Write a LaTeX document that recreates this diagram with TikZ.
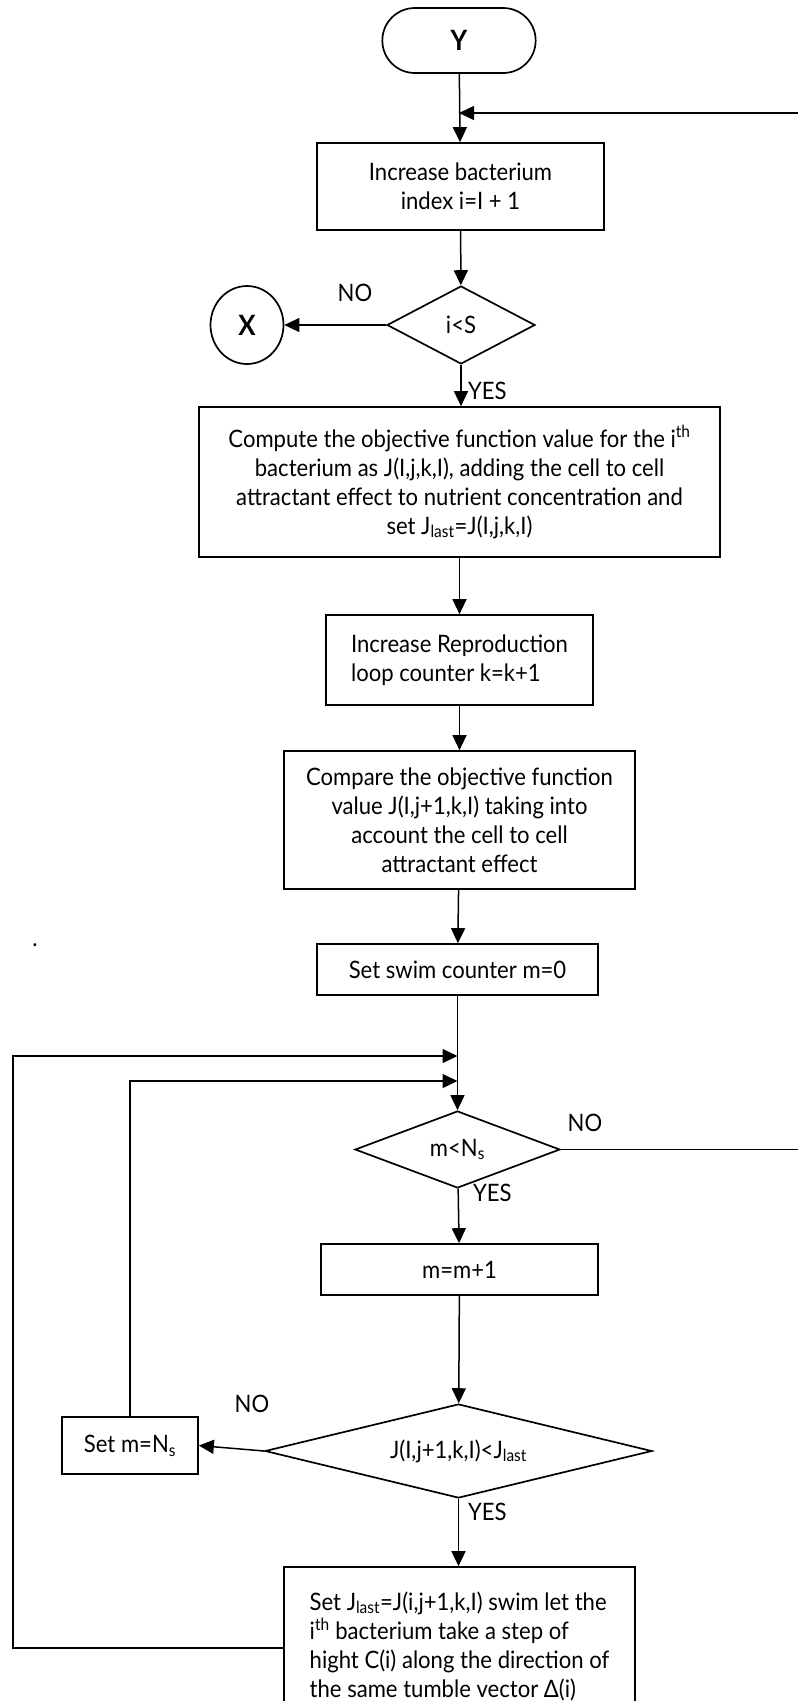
\documentclass[tikz,border=0pt]{standalone}
\usepackage{fontspec}
\setmainfont[FakeStretch=0.92]{Lato}
\usetikzlibrary{shapes.geometric,shapes.misc,arrows.meta}

\begin{document}
\begin{tikzpicture}[x=1pt,y=-1pt,
  font=\fontsize{24}{29}\selectfont,
  box/.style={draw, line width=1.7pt, rectangle, align=center, inner sep=0pt},
  decision/.style={draw, line width=1.7pt, diamond, inner sep=0pt},
  arr/.style={-{Triangle[length=15pt,width=14pt]}, line width=1.5pt},
  line/.style={line width=1.5pt},
  lbl/.style={inner sep=0pt}]
\useasboundingbox (0,0) rectangle (798,1701);
\clip (0,0) rectangle (798,1701);

% --- nodes -------------------------------------------------------
\node[draw, line width=1.7pt, rounded rectangle, minimum width=160pt, minimum height=65pt,
      font=\fontsize{28}{30}\selectfont\bfseries] (Y) at (459,40.5) {Y};

\node[box, minimum width=287pt, minimum height=87pt] (b1) at (460.5,186.5)
  {Increase bacterium\\index i=I + 1};

\node[decision, aspect=1.9, minimum width=148pt, minimum height=78pt] (d1) at (461,325) {i<S};

\node[draw, line width=1.7pt, ellipse, minimum width=73pt, minimum height=78pt,
      font=\fontsize{28}{30}\selectfont\bfseries] (X) at (247,325) {X};

\node[box, minimum width=521pt, minimum height=150pt] (b2) at (459.5,482)
  {Compute the objective function value for the i\textsuperscript{th}\\
   bacterium as J(I,j,k,I), adding the cell to cell\\
   attractant effect to nutrient concentration and\\
   set J\textsubscript{last}=J(I,j,k,I)};

\node[box, align=left, minimum width=267pt, minimum height=90pt] (b3) at (459.5,660)
  {Increase Reproduction\\loop counter k=k+1};

\node[box, minimum width=351pt, minimum height=138pt] (b4) at (459.5,820)
  {Compare the objective function\\value J(I,j+1,k,I) taking into\\account the cell to cell\\attractant effect};

\node[box, minimum width=281pt, minimum height=51pt] (b5) at (457.5,969.5)
  {Set swim counter m=0};

\node[decision, aspect=2.66, minimum width=205pt, minimum height=77pt] (d2) at (457.5,1149.5)
  {m<N\textsubscript{s}};

\node[box, minimum width=277pt, minimum height=51pt] (b6) at (459.5,1269.5) {m=m+1};

\node[decision, aspect=4.1, minimum width=387pt, minimum height=94pt] (d3) at (458.5,1451)
  {J(I,j+1,k,I)<J\textsubscript{last}};

\node[box, minimum width=136pt, minimum height=57pt] (b7) at (130,1445.5)
  {Set m=N\textsubscript{s}};

\node[box, align=left, minimum width=351pt, minimum height=158pt] (b8) at (459.5,1646)
  {Set J\textsubscript{last}=J(i,j+1,k,I) swim let the\\
   i\textsuperscript{th} bacterium take a step of\\
   hight C(i) along the direction of\\
   the same tumble vector Δ(i)};

\node[lbl, anchor=base] (dot) at (35,946) {.};

% --- branch labels -------------------------------------------------
\node[lbl] (no1) at (355,293) {NO};
\node[lbl, anchor=west] (yes1) at (468,391) {YES};
\node[lbl] (no2) at (585,1123) {NO};
\node[lbl, anchor=west] (yes2) at (473,1193) {YES};
\node[lbl] (no3) at (252,1404) {NO};
\node[lbl, anchor=west] (yes3) at (468,1512) {YES};

% --- junction points -------------------------------------------------
\coordinate (rin) at (798,113);
\coordinate (jin) at (Y.south |- rin);
\coordinate (rout) at (798,1149.5);
\coordinate (L1) at (13,1648);
\coordinate (L2) at (13,1056);
\coordinate (j1) at (b5.south |- L2);
\coordinate (k1) at (b7.north |- 0,1081);
\coordinate (j2) at (b5.south |- k1);

% --- connectors -----------------------------------------------------
\draw[arr] (Y) -- (b1);
\draw[arr] (rin) -- (jin);
\draw[arr] (b1) -- (d1);
\draw[arr] (d1.west) -- (X.east);
\draw[arr] (d1.south) -- (b2.north -| d1.south);
\draw[arr] (b2) -- (b3);
\draw[arr] (b3) -- (b4);
\draw[arr] (b4) -- (b5);
\draw[arr] (b5) -- (d2);
\draw[line] (d2.east) -- (rout);
\draw[arr] (d2) -- (b6);
\draw[arr] (b6) -- (d3);
\draw[arr] (d3.west) -- (b7.east);
\draw[arr] (d3.south) -- (b8.north -| d3.south);
\draw[arr] (b8.west |- L1) -- (L1) -- (L2) -- (j1);
\draw[arr] (b7.north) -- (k1) -- (j2);
\end{tikzpicture}
\end{document}
